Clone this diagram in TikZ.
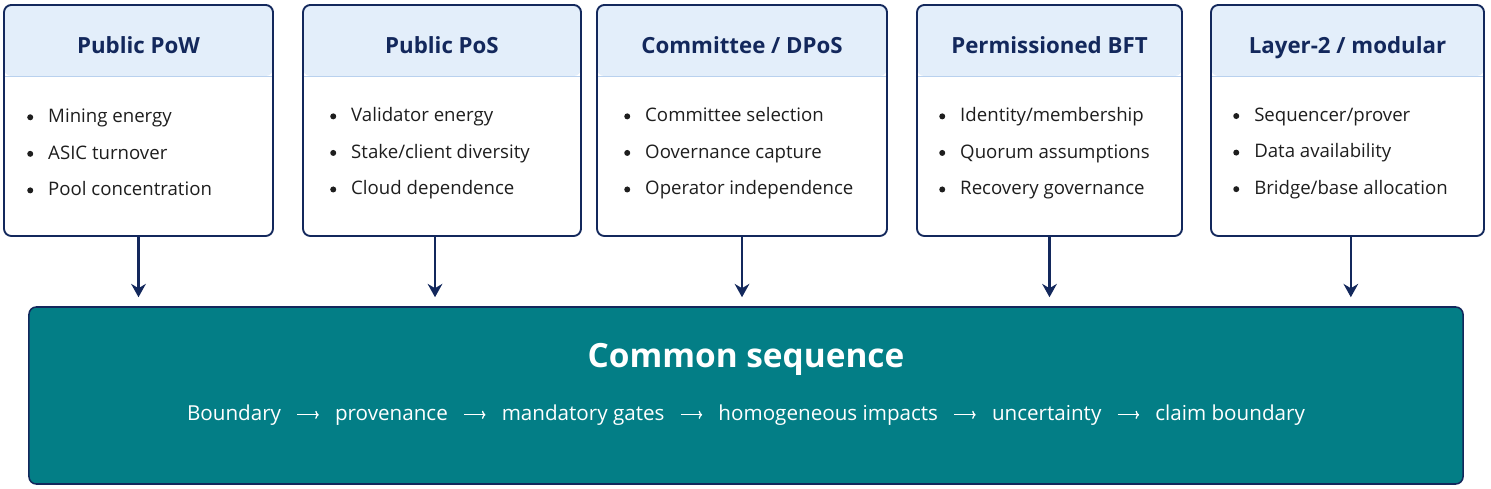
\documentclass[tikz,border=0pt]{standalone}
\usepackage{fontspec}
\setmainfont{Open Sans}
\usetikzlibrary{positioning,arrows.meta}

\definecolor{navy}{HTML}{13285C}
\definecolor{headblue}{HTML}{E3EEFA}
\definecolor{sepblue}{HTML}{B9D1EE}
\definecolor{tealbox}{HTML}{037E86}
\definecolor{bodytxt}{HTML}{1E1E1E}

\newcommand{\dotmark}{\tikz[baseline=-0.29em]\fill[bodytxt] (0,0) circle (0.09cm);}
\newcommand{\blt}[1]{\makebox[0.63cm][l]{\dotmark}#1}
\newcommand{\seqarr}{\hspace{0.47cm}\tikz[baseline=-0.3em]\draw[white, line width=1.1pt,
  -{To[length=3pt, width=7pt]}] (0,0) -- (0.64cm,0);\hspace{0.47cm}}

\tikzset{
  card/.style={draw=navy, line width=1.6pt, rounded corners=0.22cm, fill=white,
    minimum height=6.93cm,
    path picture={
      \fill[headblue] (path picture bounding box.north west)
        rectangle ([yshift=-2.13cm]path picture bounding box.north east);
      \draw[sepblue, line width=0.8pt] ([yshift=-2.13cm]path picture bounding box.north west)
        -- ([yshift=-2.13cm]path picture bounding box.north east);}},
  headtxt/.style={font=\fontsize{19}{22}\selectfont\bfseries, text=navy, anchor=base},
  items/.style={font=\fontsize{15.9}{31.2}\selectfont, text=bodytxt, align=left,
    anchor=west, inner sep=0pt},
  seqbox/.style={draw=navy, line width=1.3pt, rounded corners=0.22cm, fill=tealbox},
  feed/.style={-{Stealth[length=0.4cm, width=0.44cm]}, draw=navy, line width=2pt,
    shorten >=0.27cm},
}

\begin{document}
\begin{tikzpicture}[x=0.03cm, y=0.03cm]
  \useasboundingbox (0,0) rectangle (1491,489);

  % consensus families
  \node[card, minimum width=8.07cm] (pow) at (138.5,368.5) {};
  \node[card, minimum width=8.34cm] (pos) at (442,368.5) {};
  \node[card, minimum width=8.70cm] (dpos) at (742,368.5) {};
  \node[card, minimum width=7.95cm] (bft) at (1049.5,368.5) {};
  \node[card, minimum width=8.19cm] (ltwo) at (1347.5,368.5) {};

  \node[headtxt] (powtitle) at (138.5,435) {Public PoW};
  \node[headtxt] (postitle) at (442,435) {Public PoS};
  \node[headtxt] (dpostitle) at (742,435) {Committee / DPoS};
  \node[headtxt] (bfttitle) at (1049.5,435) {Permissioned BFT};
  \node[headtxt] (ltwotitle) at (1347.5,435) {Layer-2 / modular};

  \node[items] (powlist) at (27,336.5)
    {\blt{Mining energy}\\ \blt{ASIC turnover}\\ \blt{Pool concentration}};
  \node[items] (poslist) at (330,335.5)
    {\blt{Validator energy}\\ \blt{Stake/client diversity}\\ \blt{Cloud dependence}};
  \node[items] (dposlist) at (624,335.5)
    {\blt{Committee selection}\\ \blt{Oovernance capture}\\ \blt{Operator independence}};
  \node[items] (bftlist) at (939,335.5)
    {\blt{Identity/membership}\\ \blt{Quorum assumptions}\\ \blt{Recovery governance}};
  \node[items] (ltwolist) at (1233,335.5)
    {\blt{Sequencer/prover}\\ \blt{Data availability}\\ \blt{Bridge/base allocation}};

  % shared sequence
  \node[seqbox, minimum width=43.02cm, minimum height=5.31cm] (seq) at (746,93.5) {};
  \node[font=\fontsize{28.5}{32}\selectfont\bfseries, text=white, anchor=base] (seqtitle)
    at (746,121) {Common sequence};
  \node[font=\fontsize{17.6}{21}\selectfont, text=white, anchor=base] (seqline) at (746,68)
    {Boundary\seqarr provenance\seqarr mandatory gates\seqarr homogeneous impacts\seqarr
     uncertainty\seqarr claim boundary};

  \draw[feed] (pow) -- (pow |- seq.north);
  \draw[feed] ([xshift=-0.21cm]pos.south) -- ([xshift=-0.21cm]pos.south |- seq.north);
  \draw[feed] (dpos) -- (dpos |- seq.north);
  \draw[feed] (bft) -- (bft |- seq.north);
  \draw[feed] ([xshift=0.1cm]ltwo.south) -- ([xshift=0.1cm]ltwo.south |- seq.north);
\end{tikzpicture}
\end{document}
